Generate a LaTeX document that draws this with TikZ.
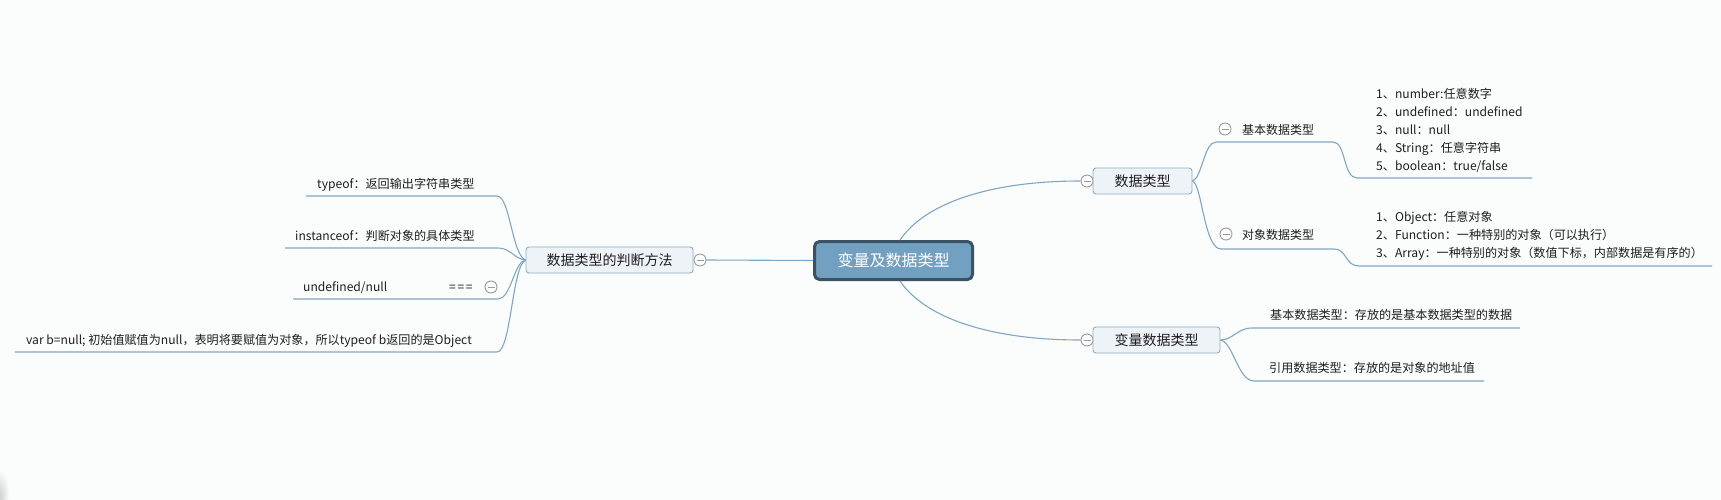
\documentclass[tikz,border=0pt]{standalone}
\usepackage{fontspec}
\setmainfont{Noto Sans CJK SC}
\definecolor{bg}{HTML}{FBFCFC}
\definecolor{conn}{HTML}{7FA7C5}
\definecolor{cfill}{HTML}{72A0C0}
\definecolor{cdark}{HTML}{3B5265}
\definecolor{subfill}{HTML}{EEF3F7}
\definecolor{subborder}{HTML}{8DAFC6}
\definecolor{btngray}{HTML}{9A9A9A}
\definecolor{txt}{HTML}{1E1E1E}
\tikzset{
  central/.style={draw=cdark, line width=3pt, fill=cfill, rounded corners=5pt,
    minimum width=158pt, minimum height=38pt, inner sep=0pt, text=white,
    font=\fontsize{16}{18}\selectfont},
  subbox/.style={draw=subborder, line width=0.9pt, fill=subfill, rounded corners=3pt,
    minimum height=26pt, inner sep=0pt, text=txt, font=\fontsize{14}{16}\selectfont},
  leaf/.style={anchor=base west, inner sep=0pt, text=txt, font=\fontsize{12.1}{18}\selectfont},
  head/.style={anchor=base west, inner sep=0pt, text=txt, font=\fontsize{12}{18}\selectfont},
  conn/.style={draw=conn, line width=1.1pt},
  btn/.style={circle, draw=btngray, line width=0.9pt, fill=white, minimum size=12pt, inner sep=0pt,
    path picture={\draw[btngray, line width=0.9pt]
      ([xshift=2.5pt]path picture bounding box.west) -- ([xshift=-2.5pt]path picture bounding box.east);}}
}
\begin{document}
\begin{tikzpicture}[x=1pt,y=-1pt]
\useasboundingbox (0,0) rectangle (1721,500);
\fill[bg] (0,0) rectangle (1721,500);
\shade[inner color=black!18, outer color=bg] (0,496) ellipse (9 and 26);

% central and main branches
\node[central] (C) at (893.5,260.5) {变量及数据类型};
\node[subbox, minimum width=167pt] (P1) at (609.5,260) {数据类型的判断方法};
\node[subbox, minimum width=99pt] (P2) at (1142.5,181) {数据类型};
\node[subbox, minimum width=127pt] (P3) at (1156.5,340) {变量数据类型};
\node[btn] (b1) at (700,260) {};
\node[btn] (b2) at (1087,181) {};
\node[btn] (b3) at (1087,340) {};

\draw[conn] (C.west) -- (b1.east);
\draw[conn] ([xshift=6.5pt]C.north) .. controls (925,203) and (990,181) .. (b2.west);
\draw[conn] ([xshift=6.5pt]C.south) .. controls (925,318) and (990,340) .. (b3.west);

% left children
\node[leaf] (L1) at (317,188.5) {typeof：返回输出字符串类型};
\node[leaf] (L2) at (295,240.5) {instanceof：判断对象的具体类型};
\node[leaf] (L3) at (303,291.5) {undefined/null};
\node[leaf] (L3b) at (449,291.5) {=\hspace{1.6pt}=\hspace{1.6pt}=};
\node[btn] (b4) at (491,287) {};
\node[leaf] (L4) at (26,344.5) {var b=null; 初始值赋值为null，表明将要赋值为对象，所以typeof b返回的是Object};

\coordinate (l1s) at (306,196); \coordinate (l1e) at (497,196);
\coordinate (l2s) at (285,248); \coordinate (l2e) at (498,248);
\coordinate (l3s) at (293,299); \coordinate (l3e) at (498,299);
\coordinate (l4s) at (15,352);  \coordinate (l4e) at (497,352);
\draw[conn] (P1.west) .. controls (512,255) and (510,196) .. (l1e) -- (l1s);
\draw[conn] (P1.west) .. controls (514,259) and (511,248) .. (l2e) -- (l2s);
\draw[conn] (P1.west) .. controls (514,262) and (511,299) .. (l3e) -- (l3s);
\draw[conn] (P1.west) .. controls (512,266) and (511,352) .. (l4e) -- (l4s);

% 数据类型 children
\node[btn] (b5) at (1225,129) {};
\node[head] (H1) at (1242,134.5) {基本数据类型};
\node[btn] (b6) at (1226,234) {};
\node[head] (H2) at (1242,239.5) {对象数据类型};

\coordinate (h1s) at (1216,142); \coordinate (h1e) at (1333,142);
\coordinate (g1s) at (1357,178); \coordinate (g1e) at (1532,178);
\coordinate (h2s) at (1221,249); \coordinate (h2e) at (1334,249);
\coordinate (g2s) at (1359,266); \coordinate (g2e) at (1712,266);
\draw[conn] (P2.east) .. controls (1202,178) and (1204,142) .. (h1s) -- (h1e)
  .. controls (1346,142) and (1343,178) .. (g1s) -- (g1e);
\draw[conn] (P2.east) .. controls (1202,184) and (1204,249) .. (h2s) -- (h2e)
  .. controls (1347,249) and (1345,266) .. (g2s) -- (g2e);

\node[leaf] (n1) at (1376,98.5) {1、number:任意数字};
\node[leaf] (n2) at (1376,116.5) {2、undefined：undefined};
\node[leaf] (n3) at (1376,134.5) {3、null：null};
\node[leaf] (n4) at (1376,152.5) {4、String：任意字符串};
\node[leaf] (n5) at (1376,170.5) {5、boolean：true/false};

\node[leaf] (o1) at (1376,221.5) {1、Object：任意对象};
\node[leaf] (o2) at (1376,239.5) {2、Function：一种特别的对象（可以执行）};
\node[leaf] (o3) at (1376,257.5) {3、Array：一种特别的对象（数值下标，内部数据是有序的）};

% 变量数据类型 children
\node[leaf] (v1) at (1270,319.5) {基本数据类型：存放的是基本数据类型的数据};
\node[leaf] (v2) at (1269,372.5) {引用数据类型：存放的是对象的地址值};
\coordinate (v1s) at (1252,328); \coordinate (v1e) at (1520,328);
\coordinate (v2s) at (1254,381); \coordinate (v2e) at (1484,381);
\draw[conn] (P3.east) .. controls (1233,340) and (1237,328) .. (v1s) -- (v1e);
\draw[conn] (P3.east) .. controls (1233,342) and (1238,381) .. (v2s) -- (v2e);
\end{tikzpicture}
\end{document}
